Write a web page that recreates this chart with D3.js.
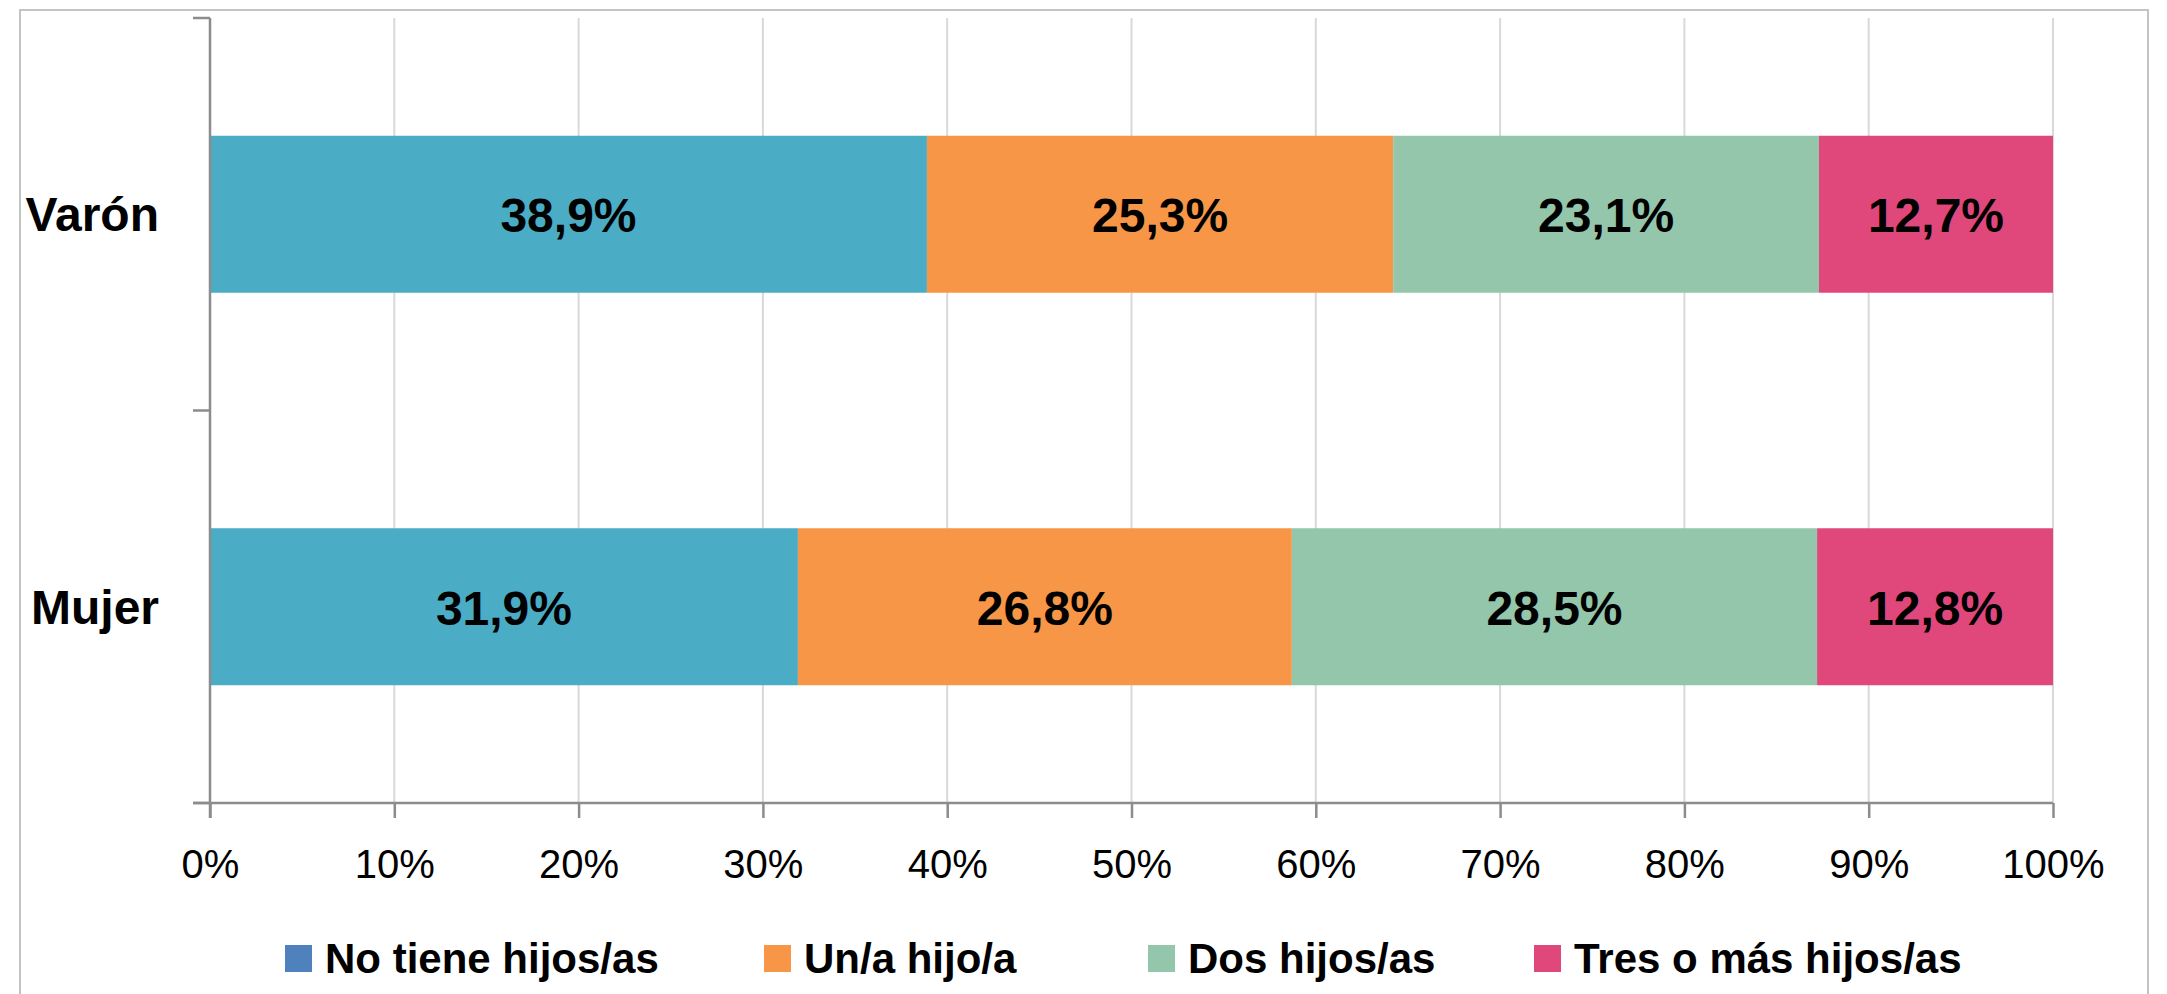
<!DOCTYPE html>
<html>
<head>
<meta charset="utf-8">
<script src="https://cdn.jsdelivr.net/npm/d3@7"></script>
<style>
html,body{margin:0;padding:0;background:#fff;}
svg{display:block;font-family:"Liberation Sans",Arial,sans-serif;}
</style>
</head>
<body>
<svg id="chart" width="2167" height="994"></svg>
<script>
const categories = ["Varón", "Mujer"];
const seriesNames = ["No tiene hijos/as", "Un/a hijo/a", "Dos hijos/as", "Tres o más hijos/as"];
const noTiene = [38.9, 31.9];
const unHijo = [25.3, 26.8];
const dosHijos = [23.1, 28.5];
const tresOMas = [12.7, 12.8];
const xTicks = [0, 10, 20, 30, 40, 50, 60, 70, 80, 90, 100];
const barColors = ["#4BACC6", "#F79646", "#93C6AB", "#E0487C"];
const legendColors = ["#4F81BD", "#F79646", "#93C6AB", "#E0487C"];
const legendX = [285, 764, 1148, 1534];

const svg = d3.select("#chart");
const m = {left: 210, right: 2053, top: 18, bottom: 803};

// outer frame
svg.append("rect").attr("x", 20).attr("y", 10).attr("width", 2128).attr("height", 1000)
  .attr("fill", "none").attr("stroke", "#c4c4c4").attr("stroke-width", 2);

const x = d3.scaleLinear().domain([0, 100]).range([m.left, m.right]);
const y = d3.scaleBand().domain(categories).range([m.top, m.bottom]).paddingInner(0.6).paddingOuter(0.3);

// gridlines
svg.append("g").selectAll("line").data(xTicks.filter(t => t > 0)).join("line")
  .attr("x1", d => x(d)).attr("x2", d => x(d))
  .attr("y1", m.top).attr("y2", m.bottom)
  .attr("stroke", "#d9d9d9").attr("stroke-width", 2);

// stacked data
const rows = categories.map((c, i) => ({cat: c, "0": noTiene[i], "1": unHijo[i], "2": dosHijos[i], "3": tresOMas[i]}));
const stack = d3.stack().keys(["0", "1", "2", "3"])(rows);

const layers = svg.append("g").selectAll("g").data(stack).join("g")
  .attr("fill", (d, i) => barColors[i]);
layers.selectAll("rect").data(d => d).join("rect")
  .attr("x", d => x(d[0]))
  .attr("width", d => x(d[1]) - x(d[0]))
  .attr("y", d => y(d.data.cat))
  .attr("height", y.bandwidth());

// data labels
const fmt = v => d3.format(".1f")(v).replace(".", ",") + "%";
const lab = svg.append("g");
stack.forEach(layer => {
  layer.forEach(d => {
    lab.append("text")
      .attr("x", (x(d[0]) + x(d[1])) / 2)
      .attr("y", y(d.data.cat) + y.bandwidth() / 2 + 18)
      .attr("text-anchor", "middle")
      .attr("font-size", 48).attr("font-weight", "bold").attr("fill", "#000")
      .text(fmt(d[1] - d[0]));
  });
});

// x axis
const xAxis = d3.axisBottom(x).tickValues(xTicks).tickFormat(d => d + "%").tickSize(15).tickSizeOuter(0);
const gx = svg.append("g").attr("transform", `translate(0,${m.bottom})`).call(xAxis);
gx.select(".domain").attr("stroke", "#8c8c8c").attr("stroke-width", 2.5)
  .attr("d", `M${m.left - 17},0H${m.right}`);
gx.selectAll(".tick line").attr("stroke", "#8c8c8c").attr("stroke-width", 2.5);
gx.selectAll(".tick text").attr("font-size", 40).attr("fill", "#000")
  .attr("font-family", "'Liberation Sans',Arial,sans-serif").attr("dy", 0).attr("y", 75);

// y axis
const gy = svg.append("g").attr("transform", `translate(${m.left},0)`);
gy.append("line").attr("x1", 0).attr("x2", 0).attr("y1", m.top).attr("y2", m.bottom + 15)
  .attr("stroke", "#8c8c8c").attr("stroke-width", 2.5);
const boundaries = [m.top, (y("Varón") + y.bandwidth() + y("Mujer")) / 2, m.bottom];
gy.selectAll(".yt").data(boundaries).join("line").attr("class", "yt")
  .attr("x1", -17).attr("x2", 0).attr("y1", d => d).attr("y2", d => d)
  .attr("stroke", "#8c8c8c").attr("stroke-width", 2.5);
gy.selectAll(".yl").data(categories).join("text").attr("class", "yl")
  .attr("x", -51).attr("y", d => y(d) + y.bandwidth() / 2 + 17)
  .attr("text-anchor", "end").attr("font-size", 48).attr("font-weight", "bold").attr("fill", "#000")
  .text(d => d);

// legend
const items = svg.append("g").selectAll("g").data(seriesNames).join("g")
  .attr("transform", (d, i) => `translate(${legendX[i]},0)`);
items.append("rect").attr("width", 27).attr("height", 27).attr("y", 945)
  .attr("fill", (d, i) => legendColors[i]);
items.append("text").attr("x", 40).attr("y", 973).attr("font-size", 42).attr("font-weight", "bold")
  .attr("fill", "#000").text(d => d);
</script>
</body>
</html>
